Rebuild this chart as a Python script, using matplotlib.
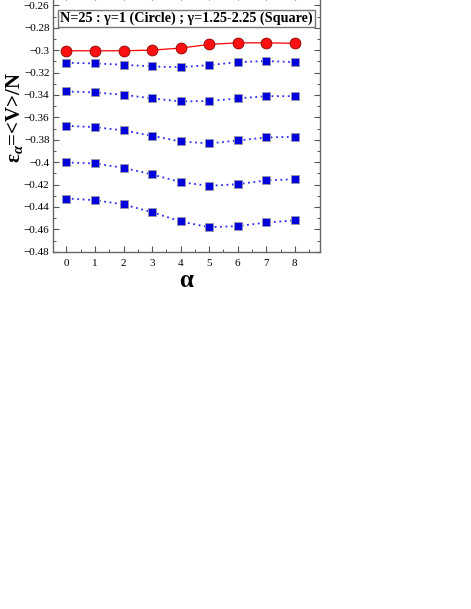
import matplotlib
matplotlib.use("Agg")
import matplotlib.pyplot as plt
from matplotlib.ticker import MultipleLocator, FixedLocator, FixedFormatter

plt.rcParams['font.family'] = ['Liberation Serif', 'DejaVu Serif']
plt.rcParams['mathtext.fontset'] = 'custom'
plt.rcParams['mathtext.rm'] = 'Liberation Serif:bold'
plt.rcParams['mathtext.it'] = 'Liberation Serif:italic:bold'
plt.rcParams['mathtext.bf'] = 'Liberation Serif:bold'

alpha = [0, 1, 2, 3, 4, 5, 6, 7, 8]

# gamma = 1 (circle)
circle = [-0.3006, -0.3006, -0.3006, -0.3000, -0.2982, -0.2949, -0.2935, -0.2935, -0.2940]

# gamma = 1.25 ... 2.25 (squares)
sq_125 = [-0.3113, -0.3119, -0.3131, -0.3146, -0.3152, -0.3134, -0.3107, -0.3098, -0.3107]
sq_150 = [-0.3369, -0.3378, -0.3399, -0.3431, -0.3458, -0.3455, -0.3431, -0.3411, -0.3411]
sq_175 = [-0.3676, -0.3688, -0.3717, -0.3765, -0.3816, -0.3833, -0.3807, -0.3780, -0.3774]
sq_200 = [-0.4003, -0.4012, -0.4051, -0.4110, -0.4179, -0.4212, -0.4197, -0.4164, -0.4152]
sq_225 = [-0.4325, -0.4340, -0.4378, -0.4447, -0.4530, -0.4581, -0.4572, -0.4539, -0.4521]

yticks = [-0.48, -0.46, -0.44, -0.42, -0.4, -0.38, -0.36, -0.34, -0.32, -0.3, -0.28, -0.26]
yticklabels = ["\u22120.48", "\u22120.46", "\u22120.44", "\u22120.42", "\u22120.4", "\u22120.38",
               "\u22120.36", "\u22120.34", "\u22120.32", "\u22120.3", "\u22120.28", "\u22120.26"]

fig = plt.figure(figsize=(4.71, 6.09), dpi=100)
ax = fig.add_axes([53 / 471, 1 - 251.7 / 609, (320 - 53) / 471, (251.7 + 6) / 609])

for s in [sq_125, sq_150, sq_175, sq_200, sq_225]:
    ax.plot(alpha, s, color='#2a2aff', ls=(0, (1, 2)), lw=1.3,
            marker='s', ms=5.4, mfc='#0000dd', mec='#9a9aa8', mew=0.6)

ax.plot(alpha, circle, color='red', lw=0.9, marker='o', ms=7.8,
        mfc='#ff1010', mec='#8a0000', mew=0.6)

ax.set_xlim(-0.47, 8.88)
ax.set_ylim(-0.48, -0.2499)
ax.xaxis.set_major_locator(MultipleLocator(1))
ax.xaxis.set_minor_locator(MultipleLocator(0.5))
ax.yaxis.set_major_locator(FixedLocator(yticks))
ax.yaxis.set_major_formatter(FixedFormatter(yticklabels))
ax.yaxis.set_minor_locator(MultipleLocator(0.01))
ax.tick_params(which='both', direction='in', right=True, top=True, colors='#555555',
               labelcolor='black', labelsize=8)
ax.tick_params(which='major', length=4, width=0.8)
ax.tick_params(which='minor', length=2.5, width=0.7)
ax.tick_params(axis='x', pad=5)
ax.tick_params(axis='y', pad=2.5)
for sp in ax.spines.values():
    sp.set_color('#666666')
    sp.set_linewidth(1.0)

ax.set_xlabel("\u03b1", fontsize=18, fontweight='bold', labelpad=1)
fig.text(15 / 471, 1 - 118 / 609, "\u03b5$_{\\alpha}$=<V>/N", rotation=90, fontsize=15,
         fontweight='bold', ha='center', va='center')

ax.text(0.5, 1 - (18.5 + 6) / 257.7, "N=25 : \u03b3=1 (Circle) ; \u03b3=1.25-2.25 (Square)",
        transform=ax.transAxes, ha='center', va='center', fontsize=10.2, fontweight='bold',
        bbox=dict(boxstyle='square,pad=0.15', fc='white', ec='#777777', lw=1.0))

fig.savefig("out.png", dpi=100)
